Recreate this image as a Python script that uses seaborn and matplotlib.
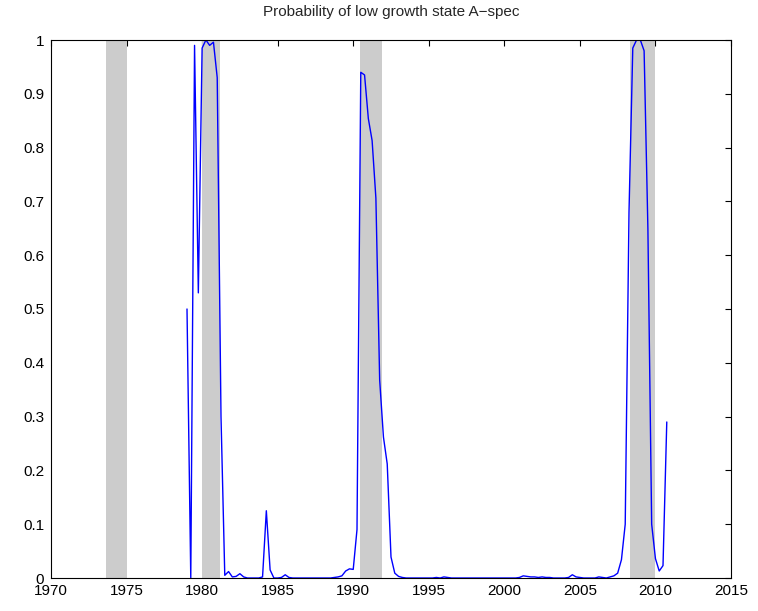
import numpy as np
import pandas as pd
import matplotlib
matplotlib.use('Agg')
import matplotlib.pyplot as plt
import seaborn as sns

# quarterly smoothed probabilities, 1979Q1 .. 2010Q4
start_year = 1979
prob = [
    0.50, 0.0, 0.99, 0.53,        # 1979
    0.985, 1.0, 0.99, 0.996,      # 1980
    0.93, 0.30, 0.005, 0.012,     # 1981
    0.002, 0.003, 0.008, 0.002,   # 1982
    0.0, 0.0, 0.0, 0.0,           # 1983
    0.002, 0.125, 0.015, 0.0,     # 1984
    0.0, 0.001, 0.006, 0.001,     # 1985
    0.0, 0.0, 0.0, 0.0,           # 1986
    0.0, 0.0, 0.0, 0.0,           # 1987
    0.0, 0.0, 0.0, 0.001,         # 1988
    0.002, 0.004, 0.013, 0.017,   # 1989
    0.016, 0.09, 0.94, 0.935,     # 1990
    0.854, 0.813, 0.706, 0.368,   # 1991
    0.262, 0.212, 0.039, 0.009,   # 1992
    0.003, 0.001, 0.0, 0.0,       # 1993
    0.0, 0.0, 0.0, 0.0,           # 1994
    0.0, 0.0, 0.001, 0.0,         # 1995
    0.002, 0.001, 0.0, 0.0,       # 1996
    0.0, 0.0, 0.0, 0.0,           # 1997
    0.0, 0.0, 0.0, 0.0,           # 1998
    0.0, 0.0, 0.0, 0.0,           # 1999
    0.0, 0.0, 0.0, 0.0,           # 2000
    0.001, 0.004, 0.003, 0.002,   # 2001
    0.002, 0.001, 0.002, 0.001,   # 2002
    0.001, 0.0, 0.0, 0.0,         # 2003
    0.0, 0.001, 0.006, 0.002,     # 2004
    0.001, 0.0, 0.0, 0.0,         # 2005
    0.0, 0.002, 0.001, 0.0,       # 2006
    0.002, 0.004, 0.009, 0.034,   # 2007
    0.10, 0.68, 0.985, 1.0,       # 2008
    1.0, 0.98, 0.65, 0.10,        # 2009
    0.036, 0.013, 0.023, 0.29,    # 2010
]

# recession bands (start, end)
rec_start = [1973.65, 1980.0, 1990.45, 2008.3]
rec_end = [1975.0, 1981.2, 1991.9, 2010.0]

df = pd.DataFrame({'year': start_year + 0.25 * np.arange(len(prob)), 'prob': prob})

sns.set_style('white')
plt.rcParams['font.family'] = ['Liberation Sans', 'DejaVu Sans']

fig = plt.figure(figsize=(7.58, 6.11), dpi=100)
ax = fig.add_axes([51 / 758, 33 / 611, 680 / 758, 538 / 611])

for s, e in zip(rec_start, rec_end):
    ax.axvspan(s, e, color='#cccccc', lw=0, zorder=1)

sns.lineplot(data=df, x='year', y='prob', ax=ax, color='blue', lw=1.0,
             estimator=None, zorder=3)

ax.set_xlim(1970, 2015)
ax.set_ylim(0, 1)
ax.set_xticks(np.arange(1970, 2016, 5))
ax.set_yticks(np.round(np.arange(0, 1.01, 0.1), 1))
ax.yaxis.set_major_formatter(matplotlib.ticker.FormatStrFormatter('%g'))
ax.set_xlabel('')
ax.set_ylabel('')
ax.tick_params(direction='in', top=True, right=True, length=4, width=0.8,
               labelsize=11, colors='black')
ax.tick_params(axis='x', pad=4)
ax.tick_params(axis='y', pad=5)
for sp in ax.spines.values():
    sp.set_color('black')
    sp.set_linewidth(0.8)
    sp.set_zorder(4)

ax.set_title('Probability of low growth state A\u2212spec', fontsize=11, pad=17)

fig.savefig('out.png', dpi=100)
